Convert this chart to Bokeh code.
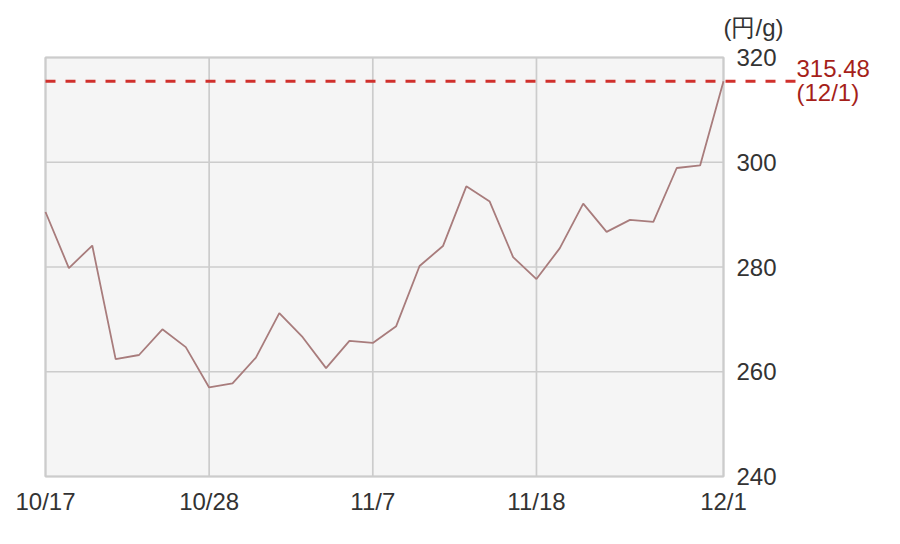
from bokeh.plotting import figure
from bokeh.models import Range1d
from bokeh.core.properties import value
from bokeh.embed import file_html
from bokeh.resources import INLINE

dates = ["10/17", "10/20", "10/21", "10/22", "10/23", "10/24", "10/27", "10/28",
         "10/29", "10/30", "10/31", "11/4", "11/5", "11/6", "11/7",
         "11/10", "11/11", "11/12", "11/13", "11/14", "11/17", "11/18",
         "11/19", "11/20", "11/21", "11/25", "11/26", "11/27", "11/28", "12/1"]
prices = [290.5, 279.8, 284.1, 262.4, 263.2, 268.1, 264.7, 257.0,
          257.8, 262.7, 271.2, 266.6, 260.7, 265.9, 265.5,
          268.7, 280.2, 284.0, 295.4, 292.5, 281.9, 277.7,
          283.6, 292.1, 286.7, 289.0, 288.6, 298.9, 299.4, 315.48]
x_tick_idx = [0, 7, 14, 21, 29]
y_ticks = [240, 260, 280, 300, 320]
unit_label = "(円/g)"

FONT = value("Liberation Sans")
FS = value("24px")
TXT = "#333333"
GRID = "#cccccc"

n = len(prices)
xs = list(range(n))
x0, x1 = 0, n - 1
y0, y1 = y_ticks[0], y_ticks[-1]

# plot area is 678 x 419 px; the frame is padded so the outside texts are not clipped
PX_X = 678 / (x1 - x0)
PX_Y = 419 / (y1 - y0)
PAD_L, PAD_R, PAD_T, PAD_B = 40, 162, 52, 54
FW, FH = 678 + PAD_L + PAD_R, 419 + PAD_T + PAD_B

p = figure(frame_width=FW, frame_height=FH,
           min_border_left=5, min_border_top=5, min_border_right=5, min_border_bottom=5,
           x_range=Range1d(x0 - PAD_L / PX_X, x1 + PAD_R / PX_X),
           y_range=Range1d(y0 - PAD_B / PX_Y, y1 + PAD_T / PX_Y),
           output_backend="svg", toolbar_location=None)
p.background_fill_color = "white"
p.border_fill_color = "white"
p.outline_line_color = None
p.grid.visible = False
p.axis.visible = False

# plot area background
p.quad(left=[x0], right=[x1], bottom=[y0], top=[y1], fill_color="#f5f5f5", line_color=None)
# grid lines
p.segment(x0=x_tick_idx, y0=[y0] * len(x_tick_idx), x1=x_tick_idx, y1=[y1] * len(x_tick_idx),
          line_color=GRID, line_width=1.7)
p.segment(x0=[x0] * len(y_ticks), y0=y_ticks, x1=[x1] * len(y_ticks), y1=y_ticks,
          line_color=GRID, line_width=1.7)
# border
p.quad(left=[x0], right=[x1], bottom=[y0], top=[y1], fill_color=None,
       line_color=GRID, line_width=2)

# x tick labels
p.text(x=x_tick_idx, y=[y0] * len(x_tick_idx), text=[dates[i] for i in x_tick_idx],
       y_offset=24.5, text_font=FONT, text_font_size=FS, text_color=TXT,
       text_align="center", text_baseline="middle")

# y tick labels (right side)
p.text(x=[x1] * len(y_ticks), y=y_ticks, text=[str(t) for t in y_ticks],
       x_offset=13, text_font=FONT, text_font_size=FS, text_color=TXT,
       text_align="left", text_baseline="middle")

# price line
p.line(xs, prices, line_color="#a87c7c", line_width=1.8)

# latest value dashed line, extending past the plot area up to the label
last = prices[-1]
label_gap_px = 72
p.line([x0, x1 + label_gap_px / PX_X], [last, last],
       line_color="#d0302c", line_width=3, line_dash="10 10")

p.text(x=[x1, x1], y=[last, last], text=[f"{last:.2f}", f"({dates[-1]})"],
       x_offset=73, y_offset=[-13, 11], text_font=FONT, text_font_size=FS,
       text_color="#a51f1a", text_align="left", text_baseline="middle")

# unit label
p.text(x=[x1], y=[y1], text=[unit_label], y_offset=-30,
       text_font=FONT, text_font_size=FS, text_color=TXT,
       text_align="left", text_baseline="middle")

open("out.html", "w").write(file_html(p, INLINE))
